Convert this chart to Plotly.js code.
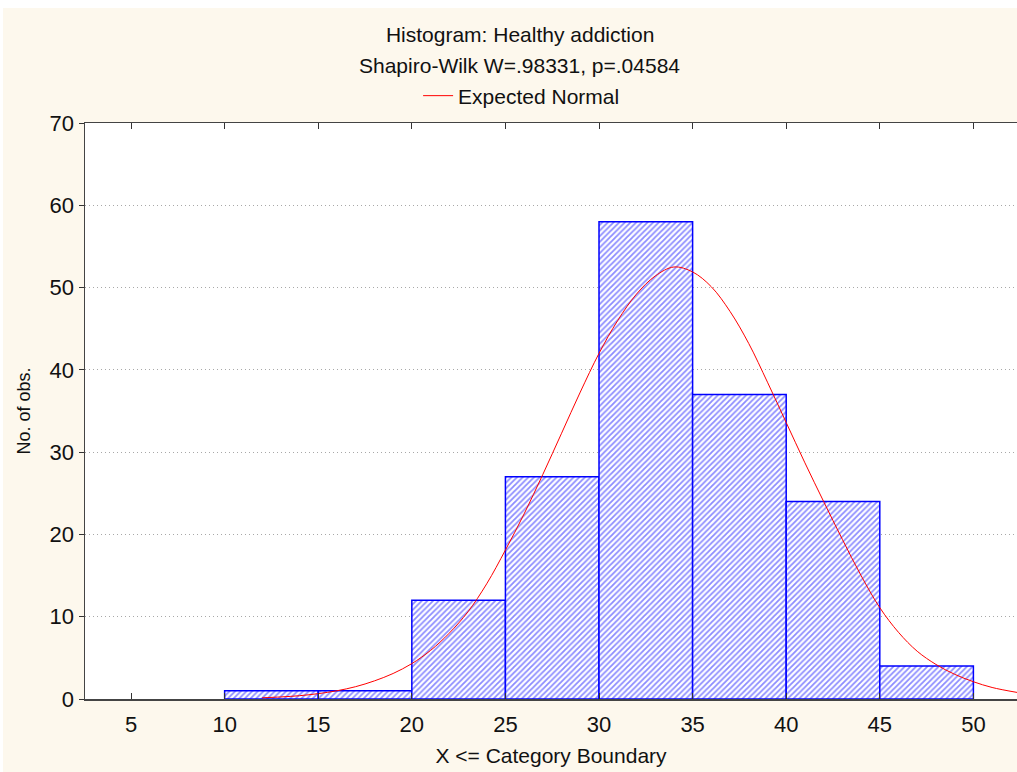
<!DOCTYPE html>
<html>
<head>
<meta charset="utf-8">
<script src="https://cdn.plot.ly/plotly-3.0.1.min.js"></script>
<style>
  html, body { margin: 0; padding: 0; background: #ffffff; }
  #chart { position: absolute; left: 3px; top: 8px; width: 1014px; height: 764px; }
</style>
</head>
<body>
<div id="chart"></div>
<script>
// Histogram bins (upper category boundaries) and counts
const binLower = [10, 15, 20, 25, 30, 35, 40, 45];
const binUpper = [15, 20, 25, 30, 35, 40, 45, 50];
const counts   = [1, 1, 12, 27, 58, 37, 24, 4];

// Expected normal curve
const normX = [12, 13, 14, 15, 16, 17, 18, 19, 20, 21, 22, 23, 24, 25, 26, 27, 28, 29, 30, 31, 32, 33, 34, 35, 36, 37, 38, 39, 40, 41, 42, 43, 44, 45, 46, 47, 48, 49, 50, 51, 52.33];
const normY = [0.15, 0.25, 0.4, 0.65, 1.0, 1.5, 2.2, 3.1, 4.3, 5.9, 8.0, 10.6, 14.0, 18.1, 22.5, 27.3, 32.3, 37.3, 42.0, 46.0, 49.2, 51.4, 52.5, 51.9, 50.1, 47.1, 43.2, 38.5, 33.6, 28.7, 24.0, 19.4, 15.0, 11.1, 8.1, 5.8, 4.2, 3.0, 2.1, 1.4, 0.8];

const xTicks = [5, 10, 15, 20, 25, 30, 35, 40, 45, 50];
const yTicks = [0, 10, 20, 30, 40, 50, 60, 70];

const titleText = "Histogram: Healthy addiction";
const subtitleText = "Shapiro-Wilk W=.98331, p=.04584";
const legendName = "Expected Normal";
const xTitle = "X <= Category Boundary";
const yTitle = "No. of obs.";

const FONT = "Liberation Sans, Arial, sans-serif";

const centers = binLower.map((l, i) => (l + binUpper[i]) / 2);
const widths = binLower.map((l, i) => binUpper[i] - l);

const bars = {
  type: "bar",
  x: centers,
  y: counts,
  width: widths,
  showlegend: false,
  hoverinfo: "x+y",
  marker: {
    color: "#ffffff",
    line: { color: "#0000ff", width: 1.5 },
    pattern: { shape: "/", size: 4, solidity: 0.45, fgcolor: "#1a1aff", bgcolor: "#ffffff", fillmode: "overlay" }
  }
};

const curve = {
  type: "scatter",
  mode: "lines",
  x: normX,
  y: normY,
  name: legendName,
  line: { color: "#ff0000", width: 1, shape: "spline", smoothing: 1 }
};

const layout = {
  width: 1014,
  height: 764,
  paper_bgcolor: "#fdf8ed",
  plot_bgcolor: "#ffffff",
  margin: { l: 82, r: 0, t: 115, b: 73 },
  font: { family: FONT, size: 18, color: "#111111" },
  title: {
    text: titleText,
    x: 0.51, xanchor: "center",
    xref: "container", yref: "container",
    y: 1 - 27 / 764, yanchor: "middle",
    font: { family: FONT, size: 21, color: "#111111" }
  },
  annotations: [{
    text: subtitleText,
    xref: "paper", yref: "paper",
    x: 0.4667, y: 1 + (115 - 57) / 576,
    xanchor: "center", yanchor: "middle",
    showarrow: false,
    font: { family: FONT, size: 21, color: "#111111" }
  }],
  showlegend: true,
  legend: {
    orientation: "h",
    x: 0.3574, xanchor: "left",
    y: 1 + (115 - 88) / 576, yanchor: "middle",
    bgcolor: "rgba(0,0,0,0)",
    font: { family: FONT, size: 21, color: "#111111" }
  },
  bargap: 0,
  xaxis: {
    range: [2.54, 52.33],
    tickvals: xTicks,
    ticktext: xTicks.map(String),
    ticks: "inside",
    ticklen: 6,
    tickcolor: "#333333",
    ticklabelstandoff: 5,
    showline: true,
    linecolor: "#444444",
    linewidth: 1.5,
    mirror: "allticks",
    showgrid: false,
    zeroline: false,
    tickfont: { family: FONT, size: 22, color: "#111111" },
    title: { text: xTitle, standoff: 12, font: { family: FONT, size: 21, color: "#111111" } }
  },
  yaxis: {
    range: [0, 70],
    tickvals: yTicks,
    ticktext: yTicks.map(String),
    ticks: "outside",
    ticklen: 5,
    tickcolor: "#333333",
    showline: true,
    linecolor: "#444444",
    linewidth: 1.5,
    showgrid: true,
    gridcolor: "#a8a8a8",
    griddash: "1px,3px",
    gridwidth: 1,
    zeroline: false,
    tickfont: { family: FONT, size: 22, color: "#111111" },
    title: { text: yTitle, standoff: 14, font: { family: FONT, size: 18, color: "#111111" } }
  }
};

Plotly.newPlot("chart", [bars, curve], layout, { displayModeBar: false, staticPlot: true });
</script>
</body>
</html>
